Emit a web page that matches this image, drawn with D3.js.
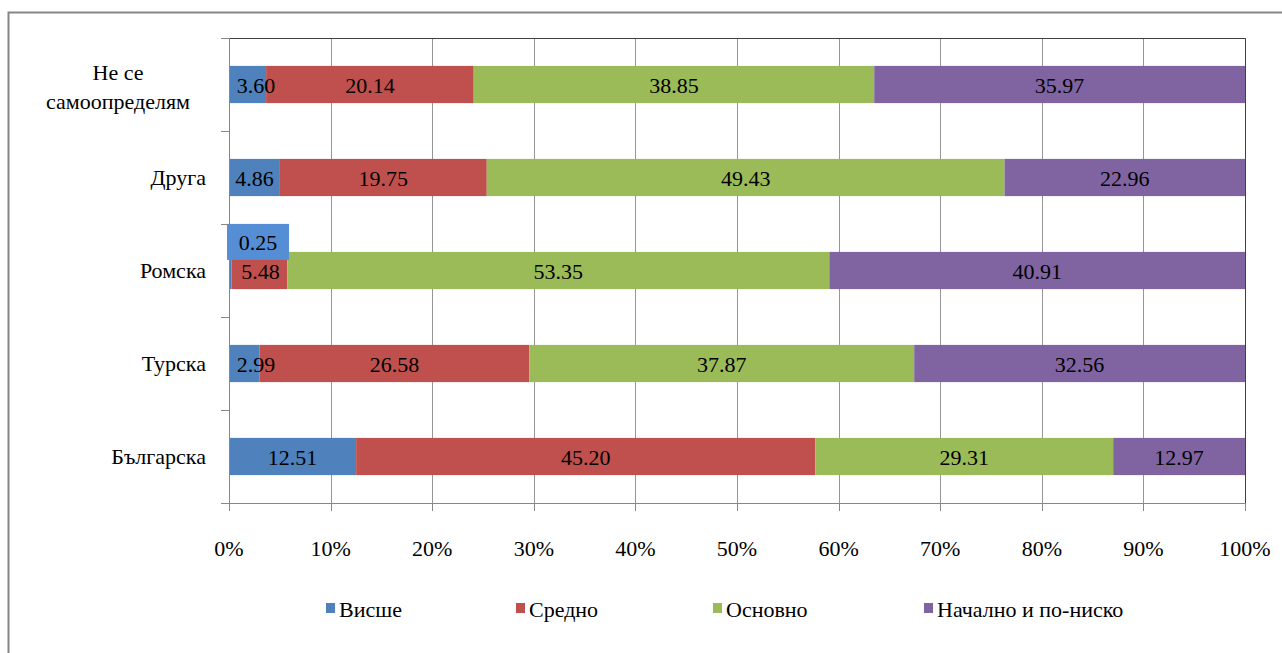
<!DOCTYPE html>
<html lang="bg">
<head>
<meta charset="utf-8">
<title>Образование по етническа група</title>
<script src="https://cdn.jsdelivr.net/npm/d3@7"></script>
<style>
  body { margin: 0; background: #fff; }
  svg text { font-family: "Times New Roman", Tinos, "Liberation Serif", "DejaVu Serif", "Noto Serif", serif; fill: #000; }
</style>
</head>
<body>
<script>
var categories = ["Не се самоопределям", "Друга", "Ромска", "Турска", "Българска"];
var seriesNames = ["Висше", "Средно", "Основно", "Начално и по-ниско"];
var colors = ["#4F81BD", "#C0504D", "#9BBB59", "#8064A2"];
var vissh   = [3.60, 4.86, 0.25, 2.99, 12.51];
var sredno  = [20.14, 19.75, 5.48, 26.58, 45.20];
var osnovno = [38.85, 49.43, 53.35, 37.87, 29.31];
var nachalno = [35.97, 22.96, 40.91, 32.56, 12.97];
var tickValues = [0, 10, 20, 30, 40, 50, 60, 70, 80, 90, 100];

var w = 1282, h = 653;
var pLeft = 229, pRight = 1245, pTop = 38, pBottom = 503;

var svg = d3.select("body").append("svg")
  .attr("width", w).attr("height", h);

// outer frame
svg.append("rect")
  .attr("x", 8.5).attr("y", 12.5)
  .attr("width", 1290).attr("height", 700)
  .attr("fill", "none").attr("stroke", "#868686").attr("stroke-width", 2);

var x = d3.scaleLinear().domain([0, 100]).range([pLeft, pRight]);
var y = d3.scaleBand().domain(categories).range([pTop, pBottom]).paddingInner(0.6).paddingOuter(0.3);
var yOuter = d3.scaleBand().domain(categories).range([pTop, pBottom]);

// build stacked data
var rows = categories.map(function(c, i) {
  var vals = [vissh[i], sredno[i], osnovno[i], nachalno[i]];
  return { cat: c, vals: vals, total: d3.sum(vals) };
});

// gridlines
svg.append("g").selectAll("line")
  .data(tickValues.slice(1))
  .enter().append("line")
  .attr("x1", function(d) { return Math.round(x(d)) + 0.5; })
  .attr("x2", function(d) { return Math.round(x(d)) + 0.5; })
  .attr("y1", pTop).attr("y2", pBottom)
  .attr("stroke", "#969696").attr("stroke-width", 1);

// plot border top/right
svg.append("path")
  .attr("d", "M" + pLeft + "," + (pTop + 0.5) + "H" + (pRight + 0.5) + "V" + pBottom)
  .attr("fill", "none").attr("stroke", "#404040").attr("stroke-width", 1);

// bars
rows.forEach(function(r) {
  var acc = 0;
  r.vals.forEach(function(v, k) {
    var x0 = x(acc / r.total * 100);
    acc += v;
    var x1 = x(acc / r.total * 100);
    svg.append("rect")
      .attr("x", x0).attr("y", y(r.cat))
      .attr("width", x1 - x0).attr("height", y.bandwidth())
      .attr("fill", colors[k]);
  });
});

// data labels
rows.forEach(function(r) {
  var acc = 0;
  r.vals.forEach(function(v, k) {
    var x0 = x(acc / r.total * 100);
    acc += v;
    var x1 = x(acc / r.total * 100);
    var cx = (x0 + x1) / 2;
    var cy = y(r.cat) + y.bandwidth() / 2;
    var label = v.toFixed(2);
    if (r.cat === "Ромска" && k === 0) {
      // too thin, label moved above with a box
      var bx = x0 - 2, by = y(r.cat) - 28;
      svg.append("rect")
        .attr("x", bx).attr("y", by)
        .attr("width", 62).attr("height", 36)
        .attr("fill", "#558ED5");
      svg.append("text")
        .attr("x", bx + 31).attr("y", by + 19)
        .attr("text-anchor", "middle").attr("dominant-baseline", "central")
        .attr("font-size", "22px").text(label);
      return;
    }
    if (r.cat === "Ромска" && k === 1) cx = x0 + 29;
    if (x1 - x0 < 50 && k === 0) cx = x0 + Math.max((x1 - x0) / 2, 27);
    svg.append("text")
      .attr("x", cx).attr("y", cy + 1)
      .attr("text-anchor", "middle").attr("dominant-baseline", "central")
      .attr("font-size", "22px").text(label);
  });
});

// y axis line and ticks
svg.append("line")
  .attr("x1", pLeft + 0.5).attr("x2", pLeft + 0.5)
  .attr("y1", pTop).attr("y2", pBottom)
  .attr("stroke", "#868686");
svg.append("g").selectAll("line")
  .data(categories.concat(["end"]))
  .enter().append("line")
  .attr("x1", pLeft - 8).attr("x2", pLeft)
  .attr("y1", function(d, i) { return Math.round(i < categories.length ? yOuter(d) : pBottom) + 0.5; })
  .attr("y2", function(d, i) { return Math.round(i < categories.length ? yOuter(d) : pBottom) + 0.5; })
  .attr("stroke", "#868686");

// x axis line and ticks
svg.append("line")
  .attr("x1", pLeft).attr("x2", pRight)
  .attr("y1", pBottom + 0.5).attr("y2", pBottom + 0.5)
  .attr("stroke", "#868686");
svg.append("g").selectAll("line")
  .data(tickValues)
  .enter().append("line")
  .attr("x1", function(d) { return Math.round(x(d)) + 0.5; })
  .attr("x2", function(d) { return Math.round(x(d)) + 0.5; })
  .attr("y1", pBottom).attr("y2", pBottom + 8)
  .attr("stroke", "#868686");
svg.append("g").selectAll("text")
  .data(tickValues)
  .enter().append("text")
  .attr("x", function(d) { return x(d); })
  .attr("y", 548)
  .attr("text-anchor", "middle").attr("dominant-baseline", "central")
  .attr("font-size", "22px")
  .text(function(d) { return d + "%"; });

// category labels
categories.forEach(function(c) {
  var cy = y(c) + y.bandwidth() / 2;
  if (c === "Не се самоопределям") {
    var t = svg.append("text").attr("text-anchor", "middle").attr("font-size", "22px");
    t.append("tspan").attr("x", 118).attr("y", cy - 12).attr("dominant-baseline", "central").text("Не се");
    t.append("tspan").attr("x", 118).attr("y", cy + 17).attr("dominant-baseline", "central").text("самоопределям");
  } else {
    svg.append("text")
      .attr("x", 206).attr("y", cy)
      .attr("text-anchor", "end").attr("dominant-baseline", "central")
      .attr("font-size", "22px").text(c);
  }
});

// legend
var legendX = [326, 516, 713, 924];
var legend = svg.append("g").selectAll("g")
  .data(seriesNames)
  .enter().append("g")
  .attr("transform", function(d, i) { return "translate(" + legendX[i] + ",608)"; });
legend.append("rect")
  .attr("x", 0).attr("y", -5).attr("width", 9).attr("height", 10)
  .attr("fill", function(d, i) { return colors[i]; });
legend.append("text")
  .attr("x", 13).attr("y", 1)
  .attr("dominant-baseline", "central")
  .attr("font-size", "22px")
  .text(function(d) { return d; });
</script>
</body>
</html>
